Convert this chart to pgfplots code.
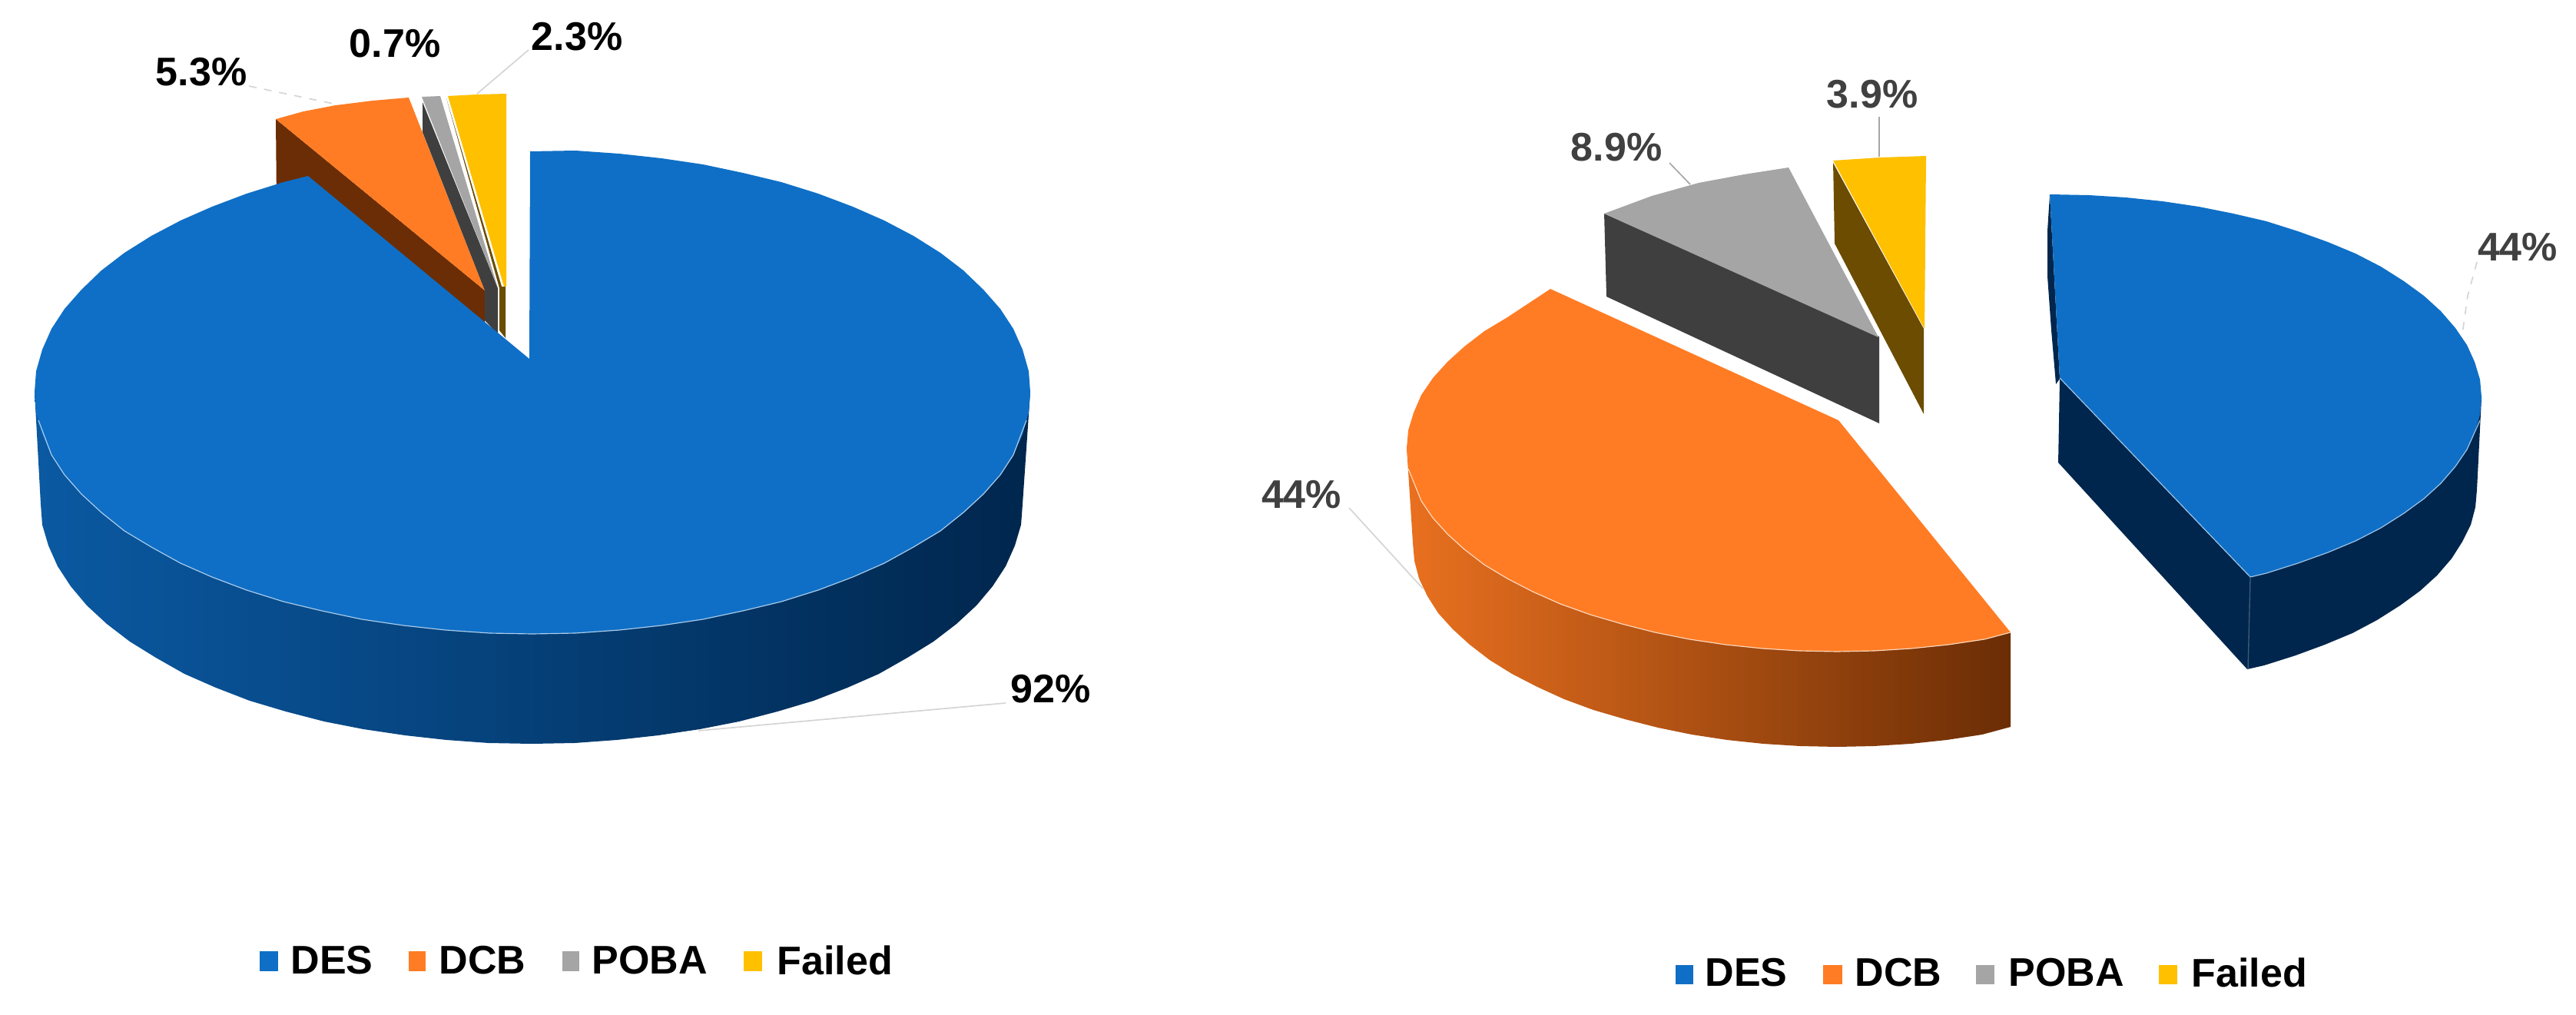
\documentclass[border=0pt]{standalone}
\usepackage{fontspec}
\usepackage{pgfplots}
\pgfplotsset{compat=1.18}
\setmainfont{Liberation Sans}

\definecolor{desc}{HTML}{0F6FC6}
\definecolor{dcbc}{HTML}{FF7C24}
\definecolor{pobac}{HTML}{A5A5A5}
\definecolor{failc}{HTML}{FFC000}
\definecolor{navy}{HTML}{00264D}
\definecolor{dkorange}{HTML}{6B2D05}
\definecolor{dkgrey}{HTML}{3F3F3F}
\definecolor{dkyellow}{HTML}{6B4C00}
\definecolor{leadc}{HTML}{D4D4D4}
\definecolor{labgrey}{HTML}{404040}

\pgfplotsset{
  face/.style={fill=#1, draw=none},
  rim/.style={draw=#1, line width=0.35pt},
  lead/.style={draw=leadc, line width=0.5pt},
}
\tikzset{
  lab/.style={font=\fontsize{15.6}{18}\selectfont\bfseries, inner sep=0pt, anchor=center},
  leg/.style={font=\fontsize{15.6}{18}\selectfont\bfseries, inner sep=0pt, anchor=west},
}

\begin{document}
\begin{tikzpicture}
\path[use as bounding box] (0,0) rectangle (1005.9pt,396pt);
\begin{axis}[
    at={(0,0)}, anchor=south west,
    scale only axis,
    width=1005.9pt, height=396pt,
    xmin=0, xmax=3353, ymin=0, ymax=1320,
    y dir=reverse,
    hide axis,
  ]
  % ---- left pie ----
  % leaders
  \addplot[lead, dashed] coordinates {(324,112)(434,135)};
  \addplot[lead] coordinates {(688,65)(621,122)};
  \addplot[lead] coordinates {(1309,915)(909,951)};
  % DCB
  \addplot[face=dkorange] coordinates {(359,155)(631,378)(631,488)(360,265)};
  \addplot[face=dcbc] coordinates {(359,155)(395,145)(437,137)(485,131)(532,127)(631,378)};
  % POBA
  \addplot[face=dkgrey] coordinates {(550,133)(648,375)(648,435)(631,417)(631,378)(550,172)};
  \addplot[face=pobac] coordinates {(549,126)(573,125)(648,375)};
  % Failed
  \addplot[face=dkyellow] coordinates {(581,128)(653,373)(658,373)(658,440)(650,430)(650,375)};
  \addplot[face=failc] coordinates {(583,125)(620,123)(659,122)(659,373)(656,373)};
  % DES side
  \addplot[draw=none, left color=desc!70!navy, middle color=navy!75!desc, right color=navy] coordinates {
    (1341,510)(1331,656)(1329,683)(1321,710)(1309,737)(1292,763)(1271,788)(1245,812)(1215,835)(1181,856)
    (1144,877)(1103,895)(1059,912)(1012,926)(962,939)(911,949)(857,957)(803,963)(748,967)(692,968)
    (636,967)(581,963)(527,957)(473,949)(422,939)(372,926)(325,912)(281,895)(240,877)(203,856)
    (169,835)(139,812)(113,788)(92,763)(75,737)(63,710)(55,683)(53,656)(45,510)};
  % DES top
  \addplot[face=desc] coordinates {
    (690,197)(749,196)(806,200)(861,206)(915,214)(967,225)(1017,237)(1065,252)(1110,269)(1151,287)
    (1189,307)(1224,329)(1254,352)(1280,377)(1302,402)(1319,428)(1331,455)(1339,483)(1341,510)
    (1339,537)(1331,565)(1319,592)(1302,618)(1280,643)(1254,667)(1224,691)(1189,712)(1151,733)
    (1110,751)(1065,768)(1017,783)(967,795)(915,806)(861,814)(806,820)(749,824)(693,825)(637,824)
    (580,820)(525,814)(471,806)(419,795)(369,783)(321,768)(276,751)(235,733)(197,712)(162,691)
    (132,667)(106,643)(84,618)(67,592)(55,565)(47,537)(45,510)(47,483)(55,455)(67,428)(84,402)
    (106,377)(132,352)(162,329)(197,307)(235,287)(276,269)(321,252)(369,237)(401,229)(689,467)};
  \addplot[rim=white!65!desc] coordinates {
    (1336,547)(1319,592)(1302,618)(1280,643)(1254,667)(1224,691)(1189,712)(1151,733)
    (1110,751)(1065,768)(1017,783)(967,795)(915,806)(861,814)(806,820)(749,824)(693,825)(637,824)
    (580,820)(525,814)(471,806)(419,795)(369,783)(321,768)(276,751)(235,733)(197,712)(162,691)
    (132,667)(106,643)(84,618)(67,592)(50,547)};

  \node[lab] at (axis cs:262,94) {5.3\%};
  \node[lab] at (axis cs:514,57) {0.7\%};
  \node[lab] at (axis cs:751,48) {2.3\%};
  \node[lab] at (axis cs:1368,897) {92\%};

  % legend, left
  \addplot[face=desc] coordinates {(338,1238)(362,1238)(362,1264)(338,1264)};
  \addplot[face=dcbc] coordinates {(532,1238)(554,1238)(554,1264)(532,1264)};
  \addplot[face=pobac] coordinates {(732,1238)(754,1238)(754,1264)(732,1264)};
  \addplot[face=failc] coordinates {(968,1238)(992,1238)(992,1264)(968,1264)};
  \node[leg] at (axis cs:378,1250) {DES};
  \node[leg] at (axis cs:571,1250) {DCB};
  \node[leg] at (axis cs:770,1250) {POBA};
  \node[leg] at (axis cs:1011,1250) {Failed};

  % ---- right pie ----
  % leaders
  \addplot[lead, dashed] coordinates {(3224,341)(3212,385)(3205,434)};
  \addplot[lead] coordinates {(1756,661)(1852,766)};
  \addplot[draw=black!35, line width=0.5pt] coordinates {(2173,212)(2200,240)};
  \addplot[draw=black!35, line width=0.5pt] coordinates {(2446,152)(2446,204)};
  % DES
  \addplot[face=navy] coordinates {
    (3230,517)(3224,637)(3222,660)(3216,683)(3205,705)(3191,727)(3172,749)(3150,769)(3124,788)(3094,807)
    (3062,824)(3026,839)(2988,853)(2947,866)(2925,871)(2679,602)(2681,492)};
  \addplot[face=navy] coordinates {(2668,253)(2665,300)(2665,360)(2670,430)(2676,500)(2681,493)};
  \addplot[face=desc] coordinates {
    (2668,253)(2719,254)(2767,257)(2815,262)(2862,269)(2907,278)(2950,288)(2991,301)(3030,315)(3066,330)
    (3099,347)(3129,366)(3155,385)(3177,405)(3196,427)(3211,449)(3221,471)(3228,494)(3230,517)
    (3228,540)(3221,563)(3211,585)(3196,607)(3177,629)(3155,649)(3129,668)(3099,687)(3066,704)
    (3030,719)(2991,733)(2950,746)(2929,751)(2681,492)};
  \addplot[rim=white!60!desc] coordinates {
    (3228,547)(3211,585)(3196,607)(3177,629)(3155,649)(3129,668)(3099,687)(3066,704)
    (3030,719)(2991,733)(2950,746)(2929,751)(2681,492)};
  \addplot[draw=navy!75!white, line width=0.4pt] coordinates {(2929,751)(2926,871)};
  % DCB
  \addplot[draw=none, left color=dcbc!85!dkorange, middle color=dcbc!45!dkorange, right color=dkorange] coordinates {
    (1831,583)(1839,707)(1841,730)(1847,753)(1858,776)(1872,798)(1891,819)(1913,839)(1939,859)(1968,877)
    (2001,894)(2036,910)(2074,924)(2115,936)(2158,947)(2202,956)(2248,963)(2295,968)(2343,971)(2391,972)
    (2439,971)(2487,968)(2534,963)(2580,956)(2617,946)(2617,823)};
  \addplot[face=dcbc] coordinates {
    (2018,376)(1962,413)(1932,431)(1906,451)(1884,471)(1865,492)(1850,514)(1840,537)(1833,560)
    (1831,583)(1833,606)(1840,629)(1850,652)(1865,674)(1884,695)(1906,715)(1932,735)(1962,753)(1995,770)
    (2031,786)(2070,800)(2111,812)(2154,823)(2199,832)(2246,839)(2294,844)(2342,847)(2391,848)(2440,847)
    (2488,844)(2536,839)(2583,832)(2617,823)(2393,547)};
  \addplot[rim=white!70!dcbc] coordinates {
    (1833,610)(1850,652)(1865,674)(1884,695)(1906,715)(1932,735)(1962,753)(1995,770)
    (2031,786)(2070,800)(2111,812)(2154,823)(2199,832)(2246,839)(2294,844)(2342,847)(2391,848)(2440,847)
    (2488,844)(2536,839)(2583,832)(2617,823)};
  % POBA
  \addplot[face=dkgrey] coordinates {(2088,278)(2091,386)(2446,551)(2446,438)};
  \addplot[face=pobac] coordinates {(2088,278)(2150,255)(2211,238)(2270,227)(2328,218)(2445,439)};
  % Failed
  \addplot[face=dkyellow] coordinates {(2386,212)(2388,317)(2504,539)(2504,428)};
  \addplot[face=failc] coordinates {(2386,209)(2447,205)(2507,203)(2505,428)};

  \node[lab, text=labgrey] at (axis cs:2437,123) {3.9\%};
  \node[lab, text=labgrey] at (axis cs:2104,192) {8.9\%};
  \node[lab, text=labgrey] at (axis cs:3277,322) {44\%};
  \node[lab, text=labgrey] at (axis cs:1694,644) {44\%};

  % legend, right
  \addplot[face=desc] coordinates {(2181,1256)(2204,1256)(2204,1281)(2181,1281)};
  \addplot[face=dcbc] coordinates {(2373,1256)(2398,1256)(2398,1281)(2373,1281)};
  \addplot[face=pobac] coordinates {(2572,1256)(2596,1256)(2596,1281)(2572,1281)};
  \addplot[face=failc] coordinates {(2810,1256)(2834,1256)(2834,1281)(2810,1281)};
  \node[leg] at (axis cs:2219,1266) {DES};
  \node[leg] at (axis cs:2414,1266) {DCB};
  \node[leg] at (axis cs:2614,1266) {POBA};
  \node[leg] at (axis cs:2852,1266) {Failed};
\end{axis}
\end{tikzpicture}
\end{document}
